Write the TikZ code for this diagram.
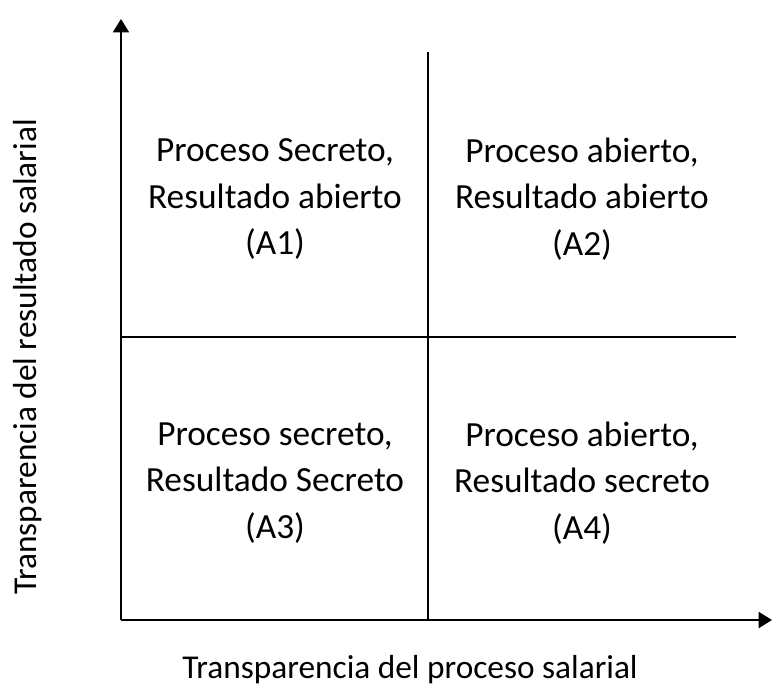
\documentclass[tikz,border=0pt]{standalone}
\usepackage{fontspec}
\setmainfont{Carlito}
\usetikzlibrary{arrows.meta}
\begin{document}
\begin{tikzpicture}[x=0.75pt,y=-0.75pt,line width=1.4pt]
\tikzstyle{axes}=[-{Triangle[length=10pt,width=12pt]}]
\tikzstyle{cell}=[align=center,font=\fontsize{26.5}{35}\selectfont]
\tikzstyle{axislabel}=[font=\fontsize{25}{30}\selectfont]
\useasboundingbox (0,0) rectangle (773,686);
\coordinate (O) at (121,620);
\coordinate (Y) at (121,19);
\coordinate (X) at (772,620);
\coordinate (T) at (428,52);
\coordinate (B) at (428,620);
\coordinate (L) at (121,337);
\coordinate (R) at (736,337);
\draw [axes] (O) -- (Y);
\draw [axes] (O) -- (X);
\draw (B) -- (T);
\draw (L) -- (R);
\node[cell] (A1) at (275,199) {Proceso Secreto,\\Resultado abierto\\(A1)};
\node[cell] (A2) at (582,199) {Proceso abierto,\\Resultado abierto\\(A2)};
\node[cell] (A3) at (275,483) {Proceso secreto,\\Resultado Secreto\\(A3)};
\node[cell] (A4) at (582,483) {Proceso abierto,\\Resultado secreto\\(A4)};
\node[axislabel,rotate=90] (ylab) at (28,357) {Transparencia del resultado salarial};
\node[axislabel] (xlab) at (410,670) {Transparencia del proceso salarial};
\end{tikzpicture}
\end{document}
